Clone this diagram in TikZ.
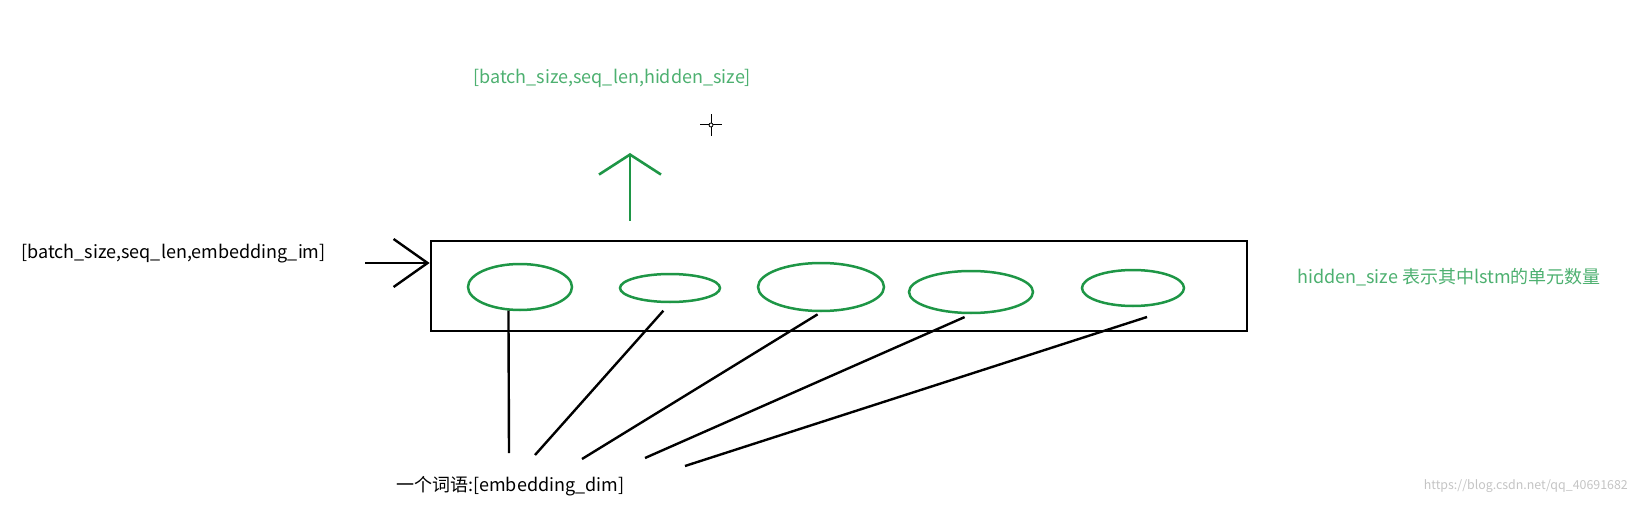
\documentclass[tikz,border=0pt]{standalone}
\usepackage{fontspec}
\setmainfont{Noto Sans CJK SC}
\usetikzlibrary{arrows.meta,positioning,shapes.geometric}
\definecolor{cellg}{HTML}{1E9646}
\definecolor{txtg}{HTML}{4DB070}
\definecolor{wmark}{HTML}{C4C4C4}
\tikzset{
  lstmbox/.style={draw, line width=2.7pt, minimum width=816pt, minimum height=90pt, inner sep=0pt},
  cell/.style={ellipse, draw=cellg, line width=2.5pt, inner sep=0pt},
  wire/.style={line width=2.4pt},
  inarr/.style={-{Straight Barb[length=34pt,width=48pt]}, line width=2.4pt},
  outarr/.style={-{Straight Barb[length=20pt,width=62pt]}, line width=2.6pt, cellg},
  lab/.style={font=\fontsize{18}{21}\selectfont, inner sep=0pt},
  glab/.style={lab, txtg},
}

\begin{document}
\begin{tikzpicture}[x=1pt,y=-1pt]
\useasboundingbox (0,0) rectangle (1638,505);

% ===================== the lstm layer ========================
\node[lstmbox] (box) at (839,286) {};
\node[cell, minimum width=104pt, minimum height=46pt] (e1) at (520,287) {};
\node[cell, minimum width=100pt, minimum height=28pt] (e2) at (670,288) {};
\node[cell, minimum width=126pt, minimum height=48pt] (e3) at (821,287) {};
\node[cell, minimum width=124pt, minimum height=42pt] (e4) at (971,292) {};
\node[cell, minimum width=102pt, minimum height=36pt] (e5) at (1133,288) {};
\node[glab, anchor=west] (hid) at (1297,277) {hidden\_size 表示其中lstm的单元数量};

% ===================== input ========================
\node[lab, anchor=west] (inlab) at (21,254) {[batch\_size,seq\_len,embedding\_im]};
\coordinate (inS) at (365,263);
\draw[inarr] (inS) -- (box.west |- inS);

% ===================== output ========================
\node[glab, anchor=west] (outlab) at (473,78) {[batch\_size,seq\_len,hidden\_size]};
\coordinate (upS) at (630,221);
\coordinate (upT) at (630,153);
\draw[outarr] (upS) -- (upT);
% cursor
\coordinate (cur) at (711,125);
\draw[line width=1pt] ([xshift=-11pt]cur) -- ([xshift=11pt]cur);
\draw[line width=1pt] ([yshift=-11pt]cur) -- ([yshift=11pt]cur);
\draw[line width=0.8pt, fill=white] (cur) circle (2pt);

% ===================== one word each ========================
\node[lab, anchor=west] (word) at (396,486) {一个词语:[embedding\_dim]};
\coordinate (w1) at (509,453);
\coordinate (w2) at (535,455);
\coordinate (w3) at (582,459);
\coordinate (w4) at (645,458);
\coordinate (w5) at (685,466);
\draw[wire] (e1.244) -- (w1);
\draw[wire, shorten <=10pt] (e2.south) -- (w2);
\draw[wire, shorten <=4pt] (e3.south) -- (w3);
\draw[wire, shorten <=7pt] (e4.south) -- (w4);
\draw[wire] ([shift={(14,29)}]e5.center) -- (w5);

\node[wmark, font=\fontsize{12.4}{14}\selectfont, anchor=east, inner sep=0pt] (wm) at (1628,486) {https://blog.csdn.net/qq\_40691682};

\end{tikzpicture}
\end{document}
